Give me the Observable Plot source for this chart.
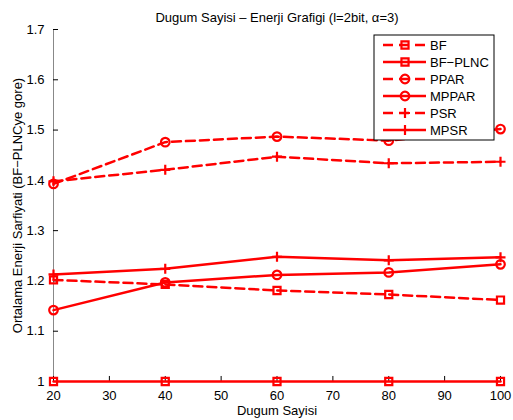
<!DOCTYPE html>
<html><head><meta charset="utf-8">
<script src="https://cdn.jsdelivr.net/npm/d3@7"></script>
<script src="https://cdn.jsdelivr.net/npm/@observablehq/plot@0.6"></script>
<style>body{margin:0;background:#fff}</style>
</head><body><div id="chart"></div>
<script>
const nodes = [20, 40, 60, 80, 100];
const bf = [1.202, 1.193, 1.181, 1.173, 1.162];
const bfPlnc = [1.0, 1.0, 1.0, 1.0, 1.0];
const ppar = [1.393, 1.476, 1.487, 1.479, 1.502];
const mppar = [1.142, 1.197, 1.212, 1.217, 1.233];
const psr = [1.398, 1.421, 1.447, 1.434, 1.437];
const mpsr = [1.213, 1.224, 1.248, 1.241, 1.247];
const seriesNames = ["BF", "BF\u2212PLNC", "PPAR", "MPPAR", "PSR", "MPSR"];
const xTicks = [20, 30, 40, 50, 60, 70, 80, 90, 100];
const yTicks = [1, 1.1, 1.2, 1.3, 1.4, 1.5, 1.6, 1.7];
const yTickLabels = ["1", "1.1", "1.2", "1.3", "1.4", "1.5", "1.6", "1.7"];
const titleText = "Dugum Sayisi \u2013 Enerji Grafigi (l=2bit, \u03b1=3)";
const xLabel = "Dugum Sayisi";
const yLabel = "Ortalama Enerji Sarfiyati (BF\u2212PLNCye gore)";

const RED = "#ff0000";
const plusSym = {draw(ctx, size) { const r = Math.sqrt(size / Math.PI); ctx.moveTo(-r, 0); ctx.lineTo(r, 0); ctx.moveTo(0, -r); ctx.lineTo(0, r); }};
const styles = [
  {dash: "9,5", symbol: "square", r: 4},
  {dash: null, symbol: "square", r: 4},
  {dash: "9,5", symbol: "circle", r: 4.3},
  {dash: null, symbol: "circle", r: 4.3},
  {dash: "9,5", symbol: plusSym, r: 5},
  {dash: null, symbol: plusSym, r: 5}
];
const values = [bf, bfPlnc, ppar, mppar, psr, mpsr];
const series = values.map((v, s) => nodes.map((n, i) => ({x: n, y: v[i], s})));

const marks = [
  Plot.ruleX([20], {stroke: "#888", strokeWidth: 1}),
  Plot.ruleY([1], {stroke: "#000"}),
  Plot.ruleX(xTicks, {y1: 1, y2: 1.01, stroke: "#000"}),
  Plot.ruleY(yTicks, {x1: 20, x2: 20.9, stroke: "#000"}),
  Plot.axisX({ticks: xTicks, tickSize: 0, tickPadding: 9, tickFormat: d => String(d), label: null}),
  Plot.axisY({ticks: yTicks, tickSize: 0, tickPadding: 9, tickFormat: (d, i) => yTickLabels[i], label: null}),
  Plot.text([titleText], {frameAnchor: "top", dy: -17, fontSize: 13}),
  Plot.text([xLabel], {frameAnchor: "bottom", dy: 33, fontSize: 13}),
  Plot.text([yLabel], {frameAnchor: "left", textAnchor: "middle", rotate: -90, dx: -36, fontSize: 13})
];
series.forEach((d, s) => {
  const st = styles[s];
  marks.push(Plot.line(d, {x: "x", y: "y", stroke: RED, strokeWidth: 2.5, strokeDasharray: st.dash}));
  marks.push(Plot.dot(d, {x: "x", y: "y", stroke: RED, strokeWidth: 2.2, fill: "none", symbol: () => st.symbol, r: st.r}));
});

const chart = Plot.plot({
  width: 513, height: 420,
  marginLeft: 53, marginRight: 13, marginTop: 29, marginBottom: 39,
  style: {fontFamily: "'Liberation Sans', Arial, sans-serif", fontSize: "13px", color: "#000", background: "#fff"},
  x: {domain: [20, 100]},
  y: {domain: [1, 1.7]},
  symbol: {type: "identity"},
  marks
});
document.getElementById("chart").appendChild(chart);

// legend
const svg = d3.select(chart);
const lg = svg.append("g").attr("text-anchor", "start");
const box = {x: 374, y: 35, w: 120, h: 105};
lg.append("rect").attr("x", box.x).attr("y", box.y).attr("width", box.w).attr("height", box.h)
  .attr("fill", "#fff").attr("stroke", "#000").attr("stroke-width", 1);
seriesNames.forEach((name, i) => {
  const st = styles[i];
  const cy = box.y + 10 + i * 17;
  lg.append("line").attr("x1", box.x + 9).attr("x2", box.x + 52).attr("y1", cy).attr("y2", cy)
    .attr("stroke", RED).attr("stroke-width", 2.5).attr("stroke-dasharray", st.dash ? "10,6" : null);
  const sym = d3.symbol().type(typeof st.symbol === "string" ? (st.symbol === "square" ? d3.symbolSquare : d3.symbolCircle) : st.symbol).size(Math.PI * st.r * st.r);
  lg.append("path").attr("d", sym()).attr("transform", `translate(${box.x + 31},${cy})`)
    .attr("fill", "none").attr("stroke", RED).attr("stroke-width", 2.2);
  lg.append("text").attr("x", box.x + 56).attr("y", cy).attr("dy", "0.35em")
    .attr("font-size", 13).attr("fill", "#000").attr("text-anchor", "start").text(name);
});
</script></body></html>
